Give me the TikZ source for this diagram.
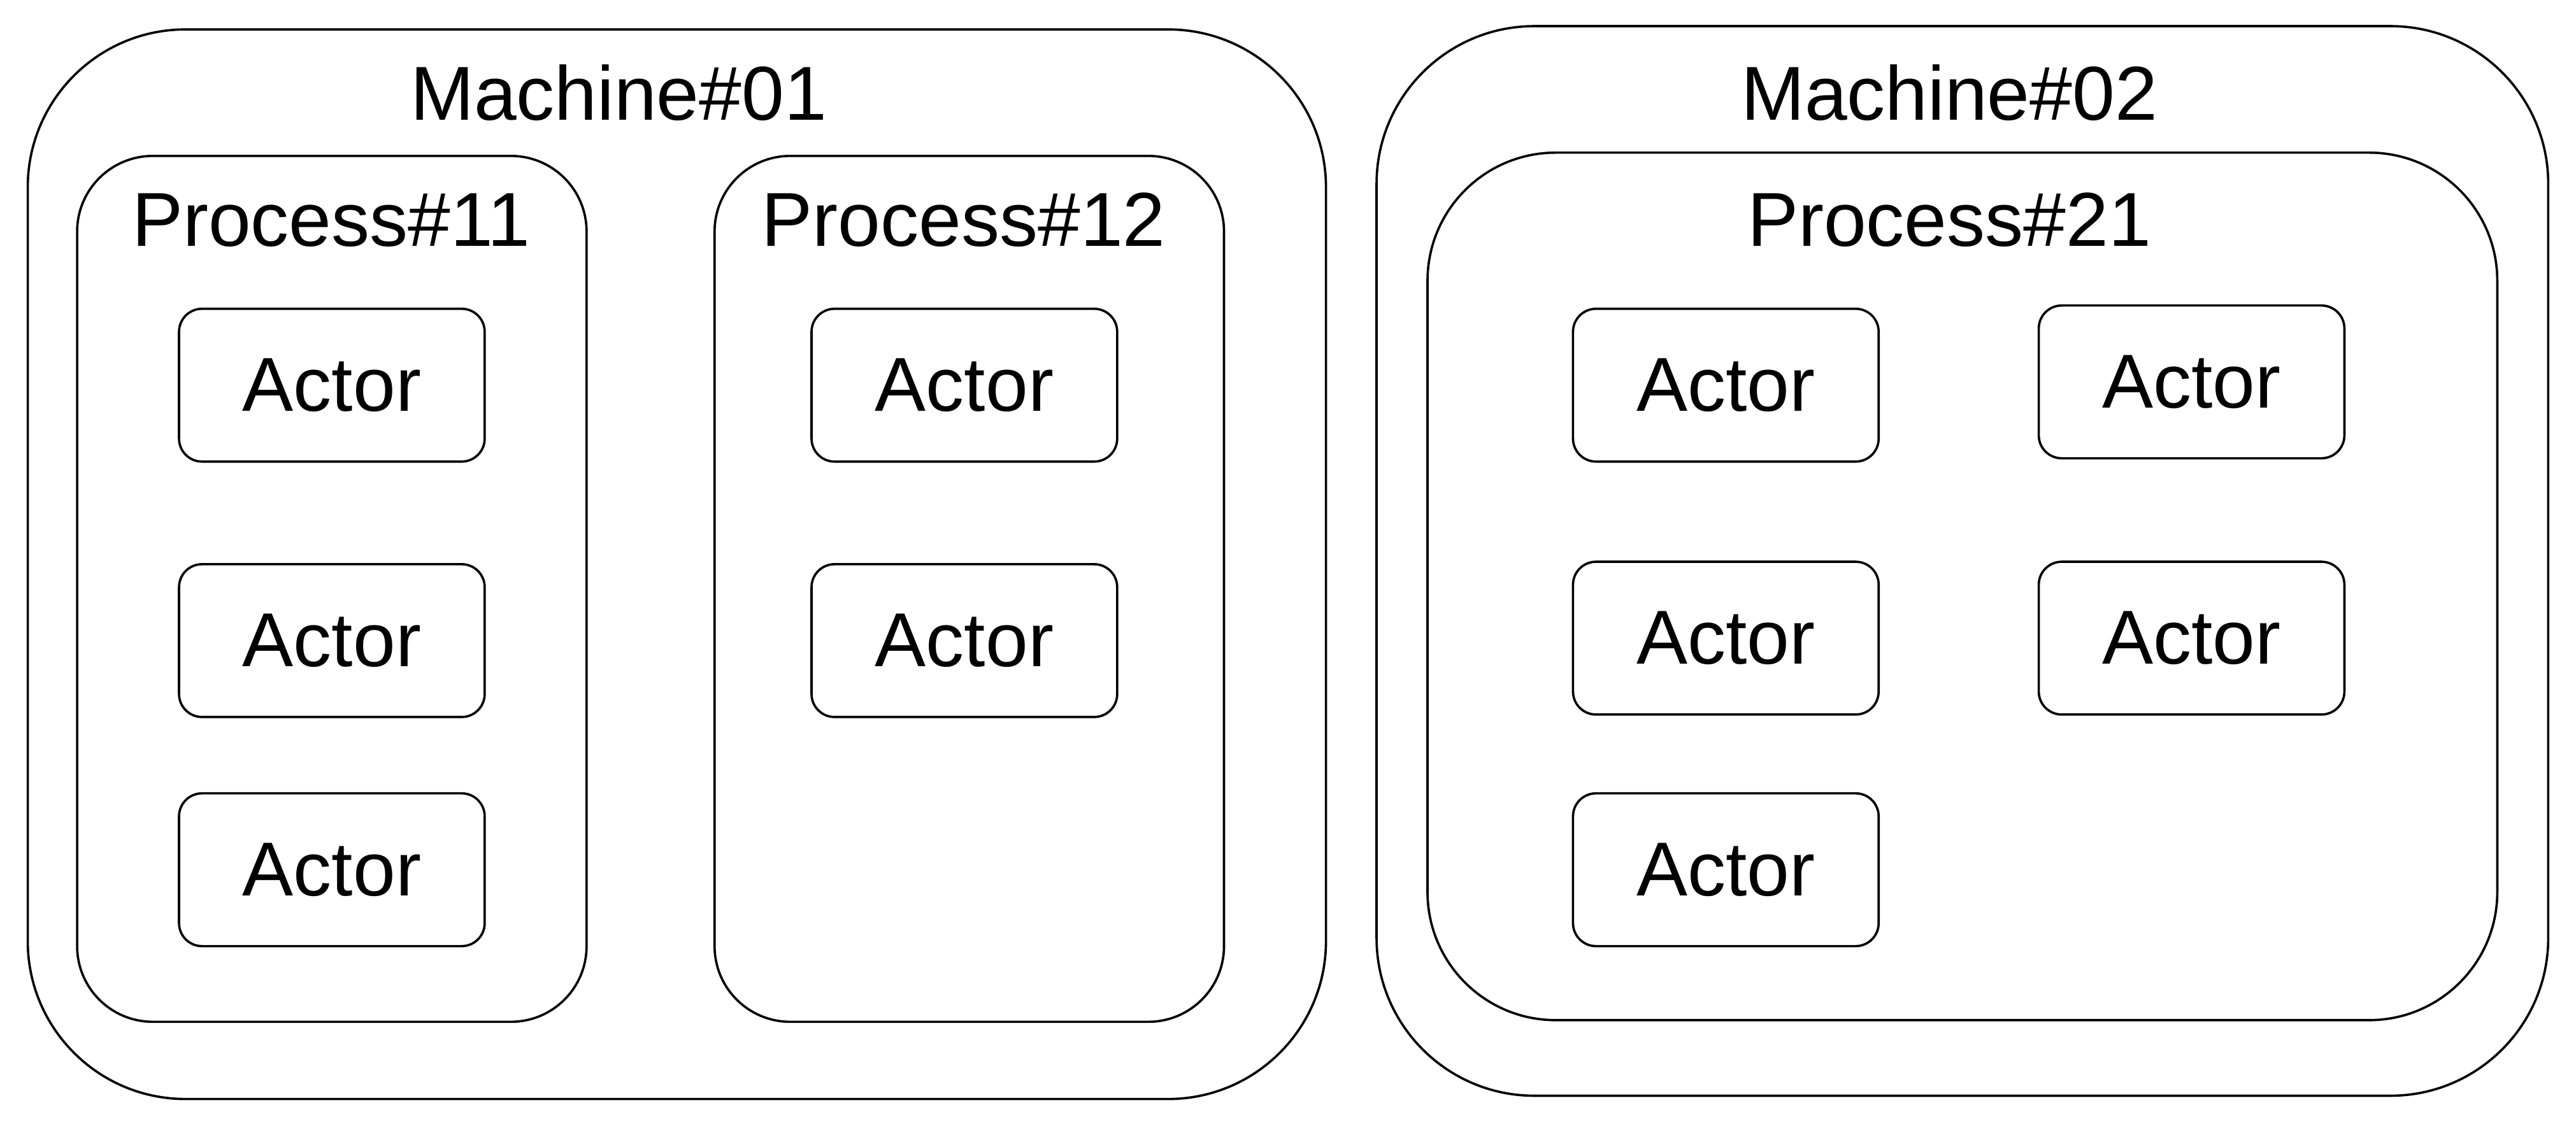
\documentclass[tikz,border=0pt]{standalone}
\usepackage{fontspec}
\setmainfont{Liberation Sans}
\usepackage{tikz}

\begin{document}
\begin{tikzpicture}[x=0.025cm,y=-0.025cm,
		box/.style={draw,line width=1pt},
		machine/.style={box,rounded corners=2.4cm,minimum height=16.275cm},
		process/.style={box,minimum height=13.175cm},
		actor/.style={box,rounded corners=0.35cm,minimum width=4.65cm,minimum height=2.325cm},
		title/.style={inner sep=0pt}]
		{\fontsize{33.1}{40}\selectfont
		\useasboundingbox (0,0) rectangle (1568,685.5);
		% machines
		\node[machine,minimum width=19.75cm] (m1) at (412,343.5) {};
		\node[machine,minimum width=17.825cm] (m2) at (1194.5,341.5) {};
		\node[title] (m1t) at (376.5,56.5) {Machine\#01};
		\node[title] (m2t) at (1186.5,56.5) {Machine\#02};
		% processes
		\node[process,rounded corners=1.15cm,minimum width=7.75cm] (p11) at (202,358.5) {};
		\node[process,rounded corners=1.15cm,minimum width=7.75cm] (p12) at (590,358.5) {};
		\node[process,rounded corners=1.95cm,minimum width=16.275cm,minimum height=13.2cm] (p21) at (1194.5,357) {};
		\node[title] (p11t) at (201.5,134) {Process\#11};
		\node[title] (p12t) at (586.5,134) {Process\#12};
		\node[title] (p21t) at (1186.5,134) {Process\#21};
		% actors
		\node[actor] (a111) at (202,234.5) {Actor};
		\node[actor] (a112) at (202,390) {Actor};
		\node[actor] (a113) at (202,529.5) {Actor};
		\node[actor] (a121) at (587,234.5) {Actor};
		\node[actor] (a122) at (587,390) {Actor};
		\node[actor] (a211) at (1050.5,234.5) {Actor};
		\node[actor] (a212) at (1050.5,388.5) {Actor};
		\node[actor] (a213) at (1050.5,529.5) {Actor};
		\node[actor] (a214) at (1334,232.5) {Actor};
		\node[actor] (a215) at (1334,388.5) {Actor};}
\end{tikzpicture}
\end{document}
